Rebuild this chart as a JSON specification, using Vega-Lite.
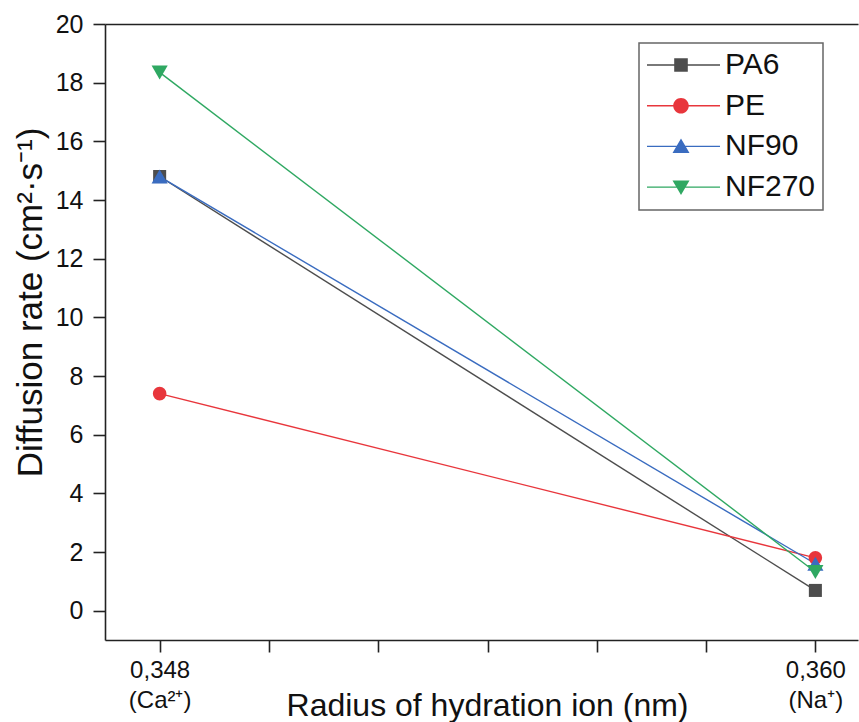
{
  "$schema": "https://vega.github.io/schema/vega-lite/v6.json",
  "width": 753,
  "height": 616,
  "autosize": {"type": "none"},
  "padding": {"left": 105, "top": 24, "right": 1, "bottom": 82},
  "background": "white",
  "config": {"view": {"stroke": null}, "font": "Liberation Sans"},
  "data": {
    "values": [
      {"series": "PA6", "radius": 0.348, "rate": 14.8},
      {"series": "PA6", "radius": 0.360, "rate": 0.69},
      {"series": "PE", "radius": 0.348, "rate": 7.4},
      {"series": "PE", "radius": 0.360, "rate": 1.8},
      {"series": "NF90", "radius": 0.348, "rate": 14.8},
      {"series": "NF90", "radius": 0.360, "rate": 1.6},
      {"series": "NF270", "radius": 0.348, "rate": 18.35},
      {"series": "NF270", "radius": 0.360, "rate": 1.32}
    ]
  },
  "encoding": {
    "y": {
      "field": "rate", "type": "quantitative",
      "scale": {"domain": [-1, 20], "nice": false, "zero": false},
      "axis": {
        "values": [0, 2, 4, 6, 8, 10, 12, 14, 16, 18, 20],
        "grid": false,
        "domainColor": "#222", "domainWidth": 1.6,
        "tickColor": "#222", "tickWidth": 1.6, "tickSize": 12,
        "labelFont": "Liberation Sans", "labelFontSize": 25, "labelColor": "#111",
        "labelPadding": 10,
        "title": "Diffusion rate (cm²·s⁻¹)",
        "titleFont": "Liberation Sans", "titleFontSize": 35, "titleFontWeight": "normal", "titleColor": "#111",
        "titleAngle": -90, "titleX": -64, "titleY": 278, "titleBaseline": "alphabetic", "titleAlign": "center"
      }
    },
    "color": {
      "field": "series", "type": "nominal",
      "scale": {"domain": ["PA6", "PE", "NF90", "NF270"], "range": ["#4d4d4d", "#e8363c", "#3a6cc0", "#2fa862"]},
      "legend": {
        "orient": "none", "legendX": 534, "legendY": 19, "title": null,
        "padding": 7, "strokeColor": "#666", "fillColor": "white",
        "symbolSize": 400, "symbolStrokeWidth": 0, "labelOffset": 49,
        "labelFont": "Liberation Sans", "labelFontSize": 30, "labelColor": "#111",
        "rowPadding": 10.7,
        "encode": {
          "legend": {"update": {"strokeWidth": {"value": 1.5}}},
          "symbols": {
            "update": {
              "shape": {"signal": "datum.value === 'PA6' ? 'M-1.4,-0.07H5.9V0.07H-1.4Z M1.32,-0.68H2.68V0.68H1.32Z' : datum.value === 'PE' ? 'M-1.4,-0.07H5.9V0.07H-1.4Z M2.78,0A0.78,0.78,0,1,1,1.22,0A0.78,0.78,0,1,1,2.78,0Z' : datum.value === 'NF90' ? 'M-1.4,-0.07H5.9V0.07H-1.4Z M2,-0.8L2.85,0.65H1.15Z' : 'M-1.4,-0.07H5.9V0.07H-1.4Z M1.15,-0.65H2.85L2,0.8Z'"},
              "size": {"value": 400},
              "fill": {"scale": "color", "field": "value"},
              "stroke": {"value": "transparent"},
              "opacity": {"value": 1}
            }
          }
        }
      }
    }
  },
  "layer": [
    {
      "mark": {"type": "line", "strokeWidth": 1.4},
      "encoding": {
        "x": {
          "field": "radius", "type": "quantitative",
          "scale": {"domain": [0.347, 0.36078], "nice": false, "zero": false},
          "axis": {
            "orient": "bottom",
            "values": [0.348, 0.35, 0.352, 0.354, 0.356, 0.358, 0.36],
            "labelExpr": "abs(datum.value-0.348)<1e-6 ? ['0,348','(Ca²⁺)'] : abs(datum.value-0.36)<1e-6 ? ['0,360','(Na⁺)'] : ''",
            "grid": false,
            "domainColor": "#222", "domainWidth": 1.6,
            "tickColor": "#222", "tickWidth": 1.6, "tickSize": 12,
            "labelFont": "Liberation Sans", "labelFontSize": 24, "labelColor": "#111",
            "labelPadding": 6, "labelLineHeight": 30, "labelBaseline": "top",
            "title": "Radius of hydration ion (nm)",
            "titleFont": "Liberation Sans", "titleFontSize": 32, "titleFontWeight": "normal", "titleColor": "#111",
            "titleX": 382, "titleY": 75, "titleBaseline": "alphabetic", "titleAlign": "center"
          }
        }
      }
    },
    {
      "transform": [{"filter": "datum.series === 'PA6'"}],
      "mark": {"type": "point", "shape": "square", "size": 170, "filled": true, "opacity": 1, "strokeWidth": 0},
      "encoding": {
        "x": {
          "field": "radius", "type": "quantitative",
          "axis": {"orient": "top", "labels": false, "ticks": false, "title": null, "grid": false, "domainColor": "#222", "domainWidth": 1.6}
        }
      }
    },
    {
      "transform": [{"filter": "datum.series === 'PE'"}],
      "mark": {"type": "point", "shape": "circle", "size": 185, "filled": true, "opacity": 1, "strokeWidth": 0},
      "encoding": {"x": {"field": "radius", "type": "quantitative", "axis": null}}
    },
    {
      "transform": [{"filter": "datum.series === 'NF90'"}],
      "mark": {"type": "point", "shape": "triangle-up", "size": 260, "filled": true, "opacity": 1, "strokeWidth": 0},
      "encoding": {"x": {"field": "radius", "type": "quantitative", "axis": null}}
    },
    {
      "transform": [{"filter": "datum.series === 'NF270'"}],
      "mark": {"type": "point", "shape": "triangle-down", "size": 260, "filled": true, "opacity": 1, "strokeWidth": 0},
      "encoding": {"x": {"field": "radius", "type": "quantitative", "axis": null}}
    }
  ],
  "resolve": {"axis": {"x": "independent"}}
}
